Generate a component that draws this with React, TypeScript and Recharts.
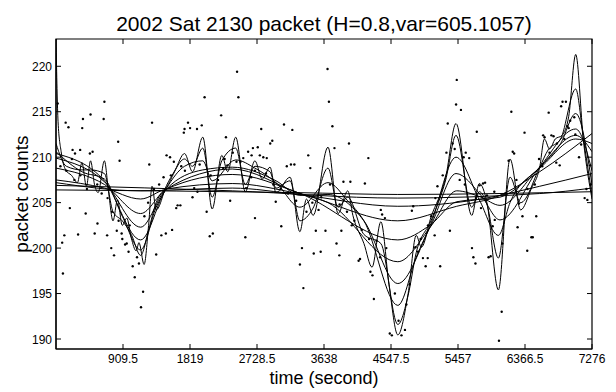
import React from "react";
import {
  ComposedChart,
  Line,
  Scatter,
  XAxis,
  YAxis,
  ReferenceArea
} from "recharts";

// packet counts per interval (time in seconds)
const sampleTime = [
  0, 23, 60, 84, 94, 113, 131, 140, 169, 188, 216, 225, 250, 258, 300, 328, 330, 356, 366, 403,
  420, 460, 469, 497, 525, 560, 563, 620, 647, 657, 694, 700, 750, 760, 788, 825, 844, 850, 863, 891,
  900, 938, 960, 985, 1000, 1041, 1069, 1100, 1126, 1154, 1182, 1200, 1250, 1266, 1304, 1330, 1360, 1400, 1430, 1460,
  1491, 1501, 1548, 1560, 1576, 1600, 1632, 1651, 1688, 1700, 1735, 1745, 1750, 1792, 1820, 1853, 1876, 1914, 1920, 1950,
  1979, 2017, 2045, 2087, 2100, 2129, 2200, 2242, 2270, 2289, 2307, 2326, 2364, 2400, 2450, 2458, 2476, 2504, 2542, 2570,
  2580, 2608, 2650, 2655, 2673, 2700, 2701, 2739, 2767, 2786, 2814, 2850, 2861, 2908, 2936, 2950, 2983, 3050, 3058, 3095,
  3133, 3150, 3189, 3208, 3236, 3260, 3311, 3339, 3358, 3400, 3424, 3452, 3480, 3499, 3527, 3564, 3593, 3600, 3658, 3686,
  3705, 3720, 3752, 3780, 3808, 3846, 3850, 3874, 3902, 3950, 3977, 3996, 4015, 4050, 4108, 4127, 4150, 4193, 4240, 4250,
  4268, 4296, 4315, 4352, 4400, 4409, 4427, 4465, 4484, 4531, 4559, 4600, 4650, 4690, 4737, 4756, 4800, 4831, 4849, 4878,
  4915, 4950, 4981, 5018, 5046, 5050, 5093, 5140, 5150, 5178, 5215, 5250, 5300, 5318, 5347, 5384, 5412, 5431, 5440, 5480,
  5497, 5534, 5550, 5562, 5609, 5647, 5666, 5694, 5700, 5712, 5750, 5769, 5797, 5825, 5850, 5872, 5900, 5928, 5950, 5956,
  6013, 6050, 6060, 6100, 6144, 6181, 6200, 6219, 6250, 6266, 6285, 6332, 6360, 6397, 6400, 6453, 6472, 6500, 6519, 6557,
  6600, 6613, 6632, 6688, 6700, 6725, 6754, 6791, 6800, 6838, 6857, 6876, 6900, 6922, 6941, 6960, 6980, 7035, 7050, 7100,
  7129, 7176, 7200, 7213, 7251, 7260
];

const sampleCount = [
  223.0, 215.9, 209.0, 200.6, 197.2, 201.4, 213.8, 208.5, 213.3, 204.4, 209.8, 210.8, 207.5, 210.4, 201.5, 210.8, 208.0, 213.2, 214.2, 203.8,
  206.5, 210.4, 214.7, 210.6, 201.6, 207.0, 202.7, 206.0, 214.2, 216.1, 201.4, 205.5, 200.0, 204.0, 199.2, 201.9, 211.7, 203.0, 209.6, 201.6,
  201.0, 200.4, 200.5, 199.6, 202.5, 198.0, 196.8, 199.0, 198.3, 193.5, 195.2, 203.5, 205.0, 209.2, 213.8, 206.5, 199.3, 207.0, 201.4, 207.8,
  201.6, 210.2, 210.0, 208.0, 202.0, 209.5, 204.4, 204.7, 204.7, 209.0, 212.7, 213.1, 208.5, 213.8, 213.2, 205.6, 206.6, 213.1, 206.2, 209.2,
  213.5, 216.6, 204.0, 201.3, 208.0, 201.6, 207.5, 214.6, 208.8, 209.8, 212.2, 209.1, 205.2, 210.5, 209.5, 219.4, 216.6, 209.5, 209.9, 201.2,
  206.6, 210.6, 207.8, 210.2, 211.0, 208.5, 203.3, 211.1, 210.2, 213.1, 210.0, 208.2, 209.9, 211.5, 211.8, 207.0, 205.1, 206.5, 202.4, 213.6,
  209.0, 206.0, 209.2, 213.0, 209.2, 205.2, 198.2, 200.0, 195.6, 204.0, 210.2, 208.8, 205.0, 199.4, 201.9, 204.2, 199.6, 205.6, 201.9, 219.7,
  216.1, 207.0, 213.4, 211.0, 200.5, 199.2, 204.8, 201.9, 207.3, 204.0, 211.5, 207.3, 202.5, 203.0, 198.6, 198.8, 202.0, 207.1, 209.9, 201.0,
  197.4, 197.0, 194.4, 200.8, 199.0, 204.2, 203.7, 203.3, 200.0, 190.6, 190.4, 195.0, 192.0, 190.4, 191.0, 193.8, 196.0, 204.1, 204.6, 200.1,
  199.6, 201.0, 198.9, 198.0, 198.9, 202.5, 203.5, 201.4, 205.5, 206.8, 198.0, 208.0, 210.5, 213.7, 201.9, 211.5, 210.9, 215.8, 218.5, 207.5,
  215.2, 210.0, 207.0, 210.5, 209.9, 200.0, 199.0, 198.3, 205.5, 212.8, 206.9, 204.4, 207.1, 207.2, 205.8, 199.0, 199.1, 202.4, 206.2, 203.1,
  189.8, 193.0, 200.5, 206.0, 209.6, 215.0, 210.6, 210.4, 207.5, 202.3, 204.9, 203.5, 212.7, 199.7, 206.5, 201.2, 201.2, 207.0, 203.5, 209.8,
  209.0, 212.4, 212.2, 214.9, 210.5, 212.4, 212.3, 209.4, 211.5, 209.1, 215.6, 216.1, 212.0, 216.1, 213.4, 213.2, 214.0, 214.4, 212.5, 210.0,
  211.4, 205.5, 206.5, 205.3, 209.1, 207.0
];

// smoothed estimates, coarsest first
const fit1: [number, number][] = [
  [0, 206.4], [3283, 206.1], [4640, 205.9], [7276, 206.2]
];
const fit2: [number, number][] = [
  [0, 206.9], [2392, 206.3], [4640, 205.5], [6566, 206.0], [7276, 206.6]
];
const fit3: [number, number][] = [
  [0, 207.2], [1149, 206.3], [2392, 206.6], [3283, 205.9], [4640, 204.6], [5769, 205.4], [6566, 206.8], [7276, 208.2]
];
const fit4: [number, number][] = [
  [0, 207.5], [657, 206.6], [1149, 205.4], [1501, 206.5], [2392, 207.1], [3283, 206.0], [4640, 203.0],
  [5440, 204.6], [6027, 205.8], [6566, 208.4], [7276, 212.6]
];
const fit5: [number, number][] = [
  [0, 208.8], [657, 207.0], [1149, 203.8], [1501, 206.5], [2392, 208.1], [3283, 206.1], [4640, 200.9],
  [5089, 202.6], [5440, 205.1], [6027, 205.6], [6566, 208.8], [7055, 212.0], [7276, 211.5]
];
const fit6: [number, number][] = [
  [0, 209.9], [657, 207.3], [1149, 202.3], [1501, 206.5], [2392, 208.7], [3283, 206.1], [3692, 205.0],
  [4640, 198.5], [5089, 202.4], [5440, 206.3], [5769, 205.6], [6027, 204.7], [6566, 208.9], [7055, 212.4], [7276, 210.6]
];
const fit7: [number, number][] = [
  [0, 210.4], [657, 207.4], [1149, 200.9], [1501, 206.5], [1993, 208.6], [2392, 208.9], [2987, 207.4],
  [3310, 205.8], [3692, 205.9], [4180, 203.0], [4640, 196.1], [5090, 202.5], [5430, 208.2], [5769, 205.8],
  [6027, 203.1], [6566, 208.9], [7055, 213.1], [7276, 208.5]
];
const fit8: [number, number][] = [
  [0, 210.6], [352, 208.4], [657, 207.6], [900, 203.5], [1149, 199.8], [1360, 204.5], [1501, 206.6],
  [1745, 209.0], [1993, 209.6], [2120, 207.4], [2439, 209.7], [2700, 208.8], [2987, 207.2], [3310, 204.5],
  [3692, 207.2], [3960, 205.2], [4180, 203.0], [4640, 193.7], [4890, 199.0], [5090, 202.7], [5430, 210.0],
  [5747, 205.3], [6005, 201.4], [6163, 205.0], [6566, 208.9], [6850, 211.5], [7055, 214.8], [7276, 207.0]
];
const fit9: [number, number][] = [
  [0, 211.5], [141, 209.0], [352, 208.6], [469, 208.6], [657, 208.2], [774, 204.0], [900, 203.0],
  [1022, 201.5], [1149, 199.2], [1257, 202.0], [1360, 205.0], [1501, 206.7], [1745, 209.8], [1853, 209.0],
  [1993, 211.0], [2120, 205.6], [2251, 209.6], [2439, 211.0], [2570, 207.0], [2700, 209.0], [2905, 208.4],
  [2987, 206.6], [3177, 207.4], [3310, 203.0], [3490, 204.4], [3692, 208.8], [3830, 204.5], [3960, 205.6],
  [4180, 201.5], [4410, 200.5], [4640, 191.6], [4780, 194.8], [4890, 199.5], [5090, 203.0], [5290, 207.5],
  [5430, 212.4], [5643, 204.5], [5747, 206.2], [5850, 204.8], [6005, 198.9], [6163, 207.8], [6308, 205.0],
  [6566, 208.9], [6680, 210.8], [6850, 212.0], [7055, 217.5], [7160, 212.0], [7276, 205.8]
];
const fit10: [number, number][] = [
  [0, 222.9], [28, 213.9], [70, 210.6], [131, 208.6], [211, 208.0], [291, 207.2], [352, 209.4], [413, 206.8],
  [469, 209.6], [525, 206.9], [572, 206.1], [657, 209.6], [713, 206.2], [774, 203.0], [835, 205.3], [900, 202.5],
  [961, 203.3], [1022, 201.1], [1088, 199.7], [1126, 200.6], [1196, 198.2], [1257, 202.5], [1304, 206.8],
  [1360, 204.2], [1501, 206.9], [1618, 208.6], [1745, 210.4], [1853, 208.4], [1993, 212.2], [2120, 204.3],
  [2251, 210.2], [2331, 208.4], [2439, 212.2], [2570, 206.2], [2700, 209.6], [2800, 207.6], [2905, 208.9],
  [2987, 206.1], [3177, 207.8], [3310, 201.8], [3400, 205.4], [3490, 203.6], [3692, 211.1], [3830, 203.8],
  [3960, 206.3], [4030, 203.6], [4180, 200.5], [4290, 197.9], [4410, 202.9], [4520, 196.0], [4640, 190.45],
  [4780, 195.0], [4890, 201.4], [4960, 200.1], [5090, 203.4], [5290, 207.8], [5430, 213.7], [5643, 203.6],
  [5747, 207.1], [5850, 205.0], [6005, 195.4], [6163, 209.8], [6308, 204.2], [6450, 206.5], [6566, 208.9],
  [6630, 212.0], [6700, 210.9], [6777, 212.0], [6870, 212.4], [6960, 214.5], [7055, 221.3], [7160, 211.8],
  [7276, 205.4]
];

const xTicks = [909.5, 1819, 2728.5, 3638, 4547.5, 5457, 6366.5, 7276];
const yTicks = [190, 195, 200, 205, 210, 215, 220];
const xDomain: [number, number] = [0, 7276];
const yDomain: [number, number] = [188.9, 223.0];

const W = 616;
const H = 392;
const PLOT = { left: 56, right: 592, top: 39, bottom: 349 };
const FONT = "'Liberation Sans', Arial, Helvetica, sans-serif";

const samples = sampleTime.map((t, i) => ({ t, v: sampleCount[i] }));
const fits = [fit1, fit2, fit3, fit4, fit5, fit6, fit7, fit8, fit9, fit10].map((f) =>
  f.map(([t, v]) => ({ t, v }))
);

function XTick(props: any) {
  const { x, payload } = props;
  return (
    <g>
      <line x1={x} x2={x} y1={PLOT.bottom} y2={PLOT.bottom - 5} stroke="#000" />
      <line x1={x} x2={x} y1={PLOT.top} y2={PLOT.top + 5} stroke="#000" />
      <text x={x} y={363} textAnchor="middle" fontSize={12} fontFamily={FONT} fill="#000">
        {String(payload.value)}
      </text>
    </g>
  );
}

function YTick(props: any) {
  const { y, payload } = props;
  return (
    <g>
      <line x1={PLOT.left} x2={PLOT.left + 5} y1={y} y2={y} stroke="#000" />
      <line x1={PLOT.right} x2={PLOT.right - 5} y1={y} y2={y} stroke="#000" />
      <text x={PLOT.left - 4} y={y + 4.5} textAnchor="end" fontSize={12} fontFamily={FONT} fill="#000">
        {String(payload.value)}
      </text>
    </g>
  );
}

const Dot = (p: any) => <circle cx={p.cx} cy={p.cy} r={1.2} fill="#000" />;

export default function App() {
  return (
    <div style={{ position: "absolute", left: 0, top: 0, width: W, height: H, background: "#fff" }}>
      <ComposedChart
        width={W}
        height={H}
        margin={{ top: PLOT.top, right: W - PLOT.right, bottom: 0, left: 0 }}
      >
        <XAxis
          type="number"
          dataKey="t"
          domain={xDomain}
          ticks={xTicks}
          interval={0}
          allowDataOverflow
          height={H - PLOT.bottom}
          tickLine={false}
          axisLine={{ stroke: "#000", strokeWidth: 1.2 }}
          tick={(p: any) => <XTick {...p} />}
        />
        <YAxis
          type="number"
          dataKey="v"
          domain={yDomain}
          ticks={yTicks}
          interval={0}
          allowDataOverflow
          width={PLOT.left}
          tickLine={false}
          axisLine={{ stroke: "#000", strokeWidth: 1.2 }}
          tick={(p: any) => <YTick {...p} />}
        />
        <Scatter data={samples} dataKey="v" shape={Dot} isAnimationActive={false} />
        {fits.map((f, i) => (
          <Line
            key={i}
            data={f}
            dataKey="v"
            type="monotone"
            dot={false}
            activeDot={false}
            stroke="#000"
            strokeWidth={1}
            isAnimationActive={false}
          />
        ))}
        <ReferenceArea
          x1={xDomain[0]}
          x2={xDomain[1]}
          y1={yDomain[0]}
          y2={yDomain[1]}
          fill="none"
          fillOpacity={0}
          stroke="#000"
          strokeWidth={1.2}
          strokeOpacity={1}
        />
      </ComposedChart>
      <svg
        width={W}
        height={H}
        style={{ position: "absolute", left: 0, top: 0, pointerEvents: "none" }}
      >
        <text x={(PLOT.left + PLOT.right) / 2} y={31} textAnchor="middle" fontSize={21} fontFamily={FONT} fill="#000">
          2002 Sat 2130 packet (H=0.8,var=605.1057)
        </text>
        <text x={(PLOT.left + PLOT.right) / 2} y={384} textAnchor="middle" fontSize={18} fontFamily={FONT} fill="#000">
          time (second)
        </text>
        <text
          x={0}
          y={0}
          transform={`translate(28, ${(PLOT.top + PLOT.bottom) / 2}) rotate(-90)`}
          textAnchor="middle"
          fontSize={19}
          fontFamily={FONT}
          fill="#000"
        >
          packet counts
        </text>
      </svg>
    </div>
  );
}
